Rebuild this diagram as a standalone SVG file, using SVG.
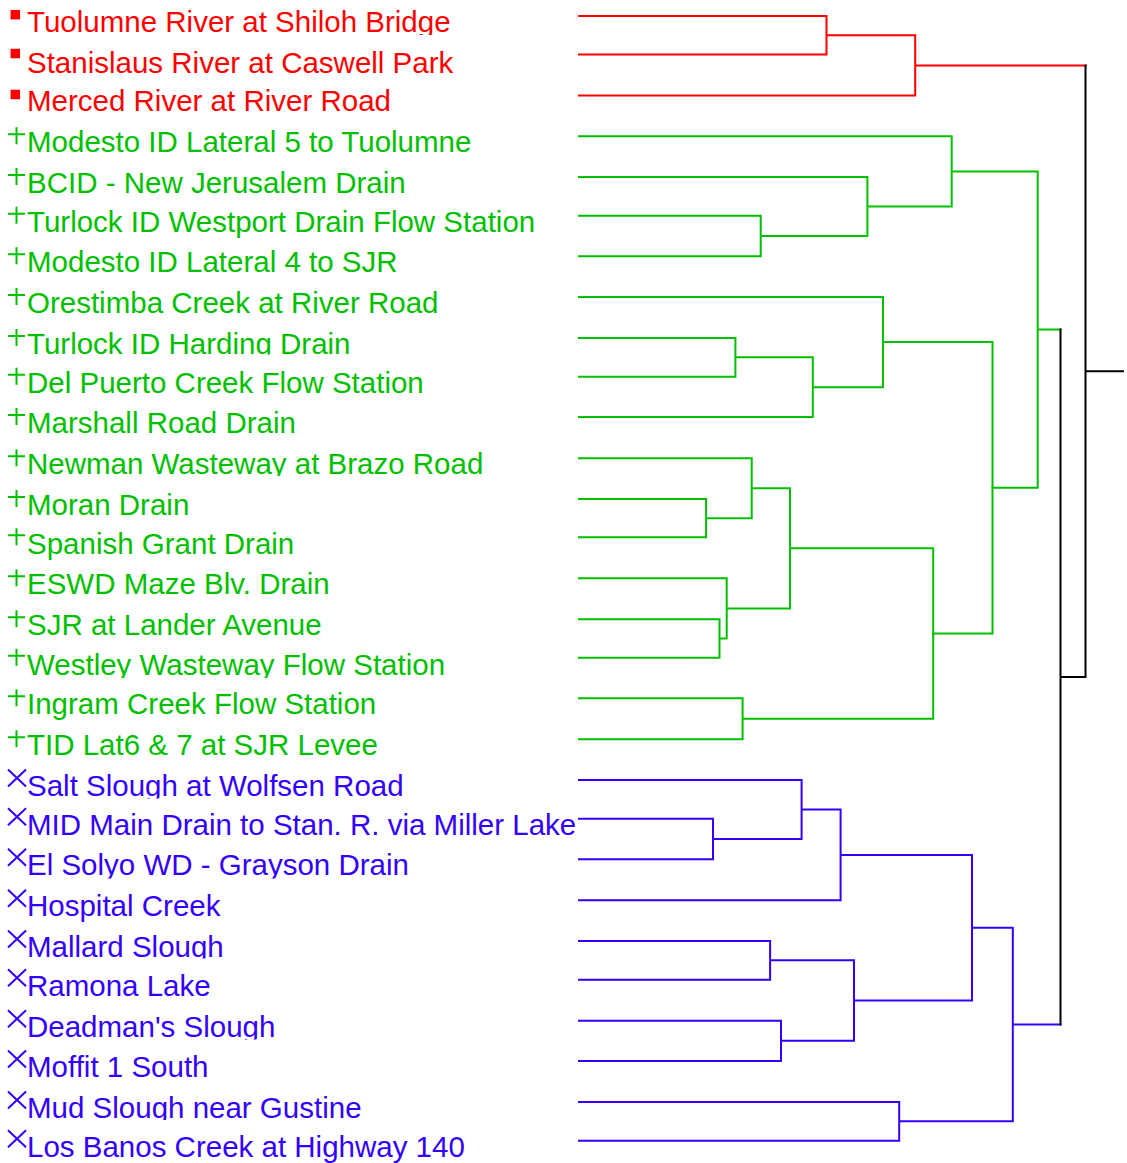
<svg xmlns="http://www.w3.org/2000/svg" xmlns:xlink="http://www.w3.org/1999/xlink" width="1127" height="1163" viewBox="0 0 1127 1163">
<style>
.lbl{font-family:"Liberation Sans",Arial,sans-serif;font-size:29.5px}
.tr{fill:#ff0000}.tg{fill:#00c000}.tb{fill:#3300ff}
.cn{fill:none;stroke-width:2;stroke-linecap:square}
.cr{stroke:#ff0000}.cg{stroke:#00c000}.cb{stroke:#3300ff}.ck{stroke:#000000}
</style>
<defs>
<rect id="sq" x="-4.75" y="-4.75" width="9.5" height="9.5" fill="#ff0000"/>
<path id="plus" d="M-8.5,-2H8.5M0,-9V8" stroke="#00c000" stroke-width="2" fill="none"/>
<path id="cross" d="M-9,-10.5L9,6.5M9,-10.5L-9,6.5" stroke="#3300ff" stroke-width="2" fill="none"/>
<clipPath id="k1"><rect x="0" y="0" width="577" height="35"/></clipPath>
<clipPath id="k9"><rect x="0" y="315" width="577" height="39.5"/></clipPath>
<clipPath id="k12"><rect x="0" y="436" width="577" height="40"/></clipPath>
<clipPath id="k17"><rect x="0" y="636" width="577" height="42"/></clipPath>
<clipPath id="k20"><rect x="0" y="758" width="577" height="40.5"/></clipPath>
<clipPath id="k22"><rect x="0" y="838" width="577" height="40.5"/></clipPath>
<clipPath id="k24"><rect x="0" y="918" width="577" height="40.5"/></clipPath>
<clipPath id="k26"><rect x="0" y="999" width="577" height="40.5"/></clipPath>
<clipPath id="k28"><rect x="0" y="1080" width="577" height="40"/></clipPath>
<clipPath id="kall"><rect x="0" y="0" width="577" height="1163"/></clipPath>
</defs>
<rect width="1127" height="1163" fill="#ffffff"/>

<g id="n1"><use xlink:href="#sq" x="15.3" y="14.7"/><text class="lbl tr" x="27" y="32" clip-path="url(#k1)">Tuolumne River at Shiloh Bridge</text></g>
<g id="n2"><use xlink:href="#sq" x="15.3" y="53.5"/><text class="lbl tr" x="27" y="72.5">Stanislaus River at Caswell Park</text></g>
<g id="n3"><use xlink:href="#sq" x="15.3" y="94.5"/><text class="lbl tr" x="27" y="111">Merced River at River Road</text></g>

<g id="n4"><use xlink:href="#plus" x="16.5" y="136.3"/><text class="lbl tg" x="27" y="152.3">Modesto ID Lateral 5 to Tuolumne</text></g>
<g id="n5"><use xlink:href="#plus" x="16.5" y="177"/><text class="lbl tg" x="27" y="193">BCID - New Jerusalem Drain</text></g>
<g id="n6"><use xlink:href="#plus" x="16.5" y="215.7"/><text class="lbl tg" x="27" y="231.7">Turlock ID Westport Drain Flow Station</text></g>
<g id="n7"><use xlink:href="#plus" x="16.5" y="256.3"/><text class="lbl tg" x="27" y="272.3">Modesto ID Lateral 4 to SJR</text></g>
<g id="n8"><use xlink:href="#plus" x="16.5" y="297"/><text class="lbl tg" x="27" y="313">Orestimba Creek at River Road</text></g>
<g id="n9"><use xlink:href="#plus" x="16.5" y="338"/><text class="lbl tg" x="27" y="354" clip-path="url(#k9)">Turlock ID Harding Drain</text></g>
<g id="n10"><use xlink:href="#plus" x="16.5" y="376.7"/><text class="lbl tg" x="27" y="392.7">Del Puerto Creek Flow Station</text></g>
<g id="n11"><use xlink:href="#plus" x="16.5" y="417"/><text class="lbl tg" x="27" y="433">Marshall Road Drain</text></g>
<g id="n12"><use xlink:href="#plus" x="16.5" y="458.3"/><text class="lbl tg" x="27" y="474.3" clip-path="url(#k12)">Newman Wasteway at Brazo Road</text></g>
<g id="n13"><use xlink:href="#plus" x="16.5" y="499"/><text class="lbl tg" x="27" y="515">Moran Drain</text></g>
<g id="n14"><use xlink:href="#plus" x="16.5" y="537.3"/><text class="lbl tg" x="27" y="554">Spanish Grant Drain</text></g>
<g id="n15"><use xlink:href="#plus" x="16.5" y="578.3"/><text class="lbl tg" x="27" y="594.3">ESWD Maze Blv. Drain</text></g>
<g id="n16"><use xlink:href="#plus" x="16.5" y="619.3"/><text class="lbl tg" x="27" y="635.3">SJR at Lander Avenue</text></g>
<g id="n17"><use xlink:href="#plus" x="16.5" y="657.7"/><text class="lbl tg" x="27" y="675" clip-path="url(#k17)">Westley Wasteway Flow Station</text></g>
<g id="n18"><use xlink:href="#plus" x="16.5" y="698.3"/><text class="lbl tg" x="27" y="714.3">Ingram Creek Flow Station</text></g>
<g id="n19"><use xlink:href="#plus" x="16.5" y="739.3"/><text class="lbl tg" x="27" y="755.3">TID Lat6 &amp; 7 at SJR Levee</text></g>

<g id="n20"><use xlink:href="#cross" x="17" y="780"/><text class="lbl tb" x="27" y="796" clip-path="url(#k20)">Salt Slough at Wolfsen Road</text></g>
<g id="n21"><use xlink:href="#cross" x="17" y="818.7"/><text class="lbl tb" x="27" y="834.7" clip-path="url(#kall)">MID Main Drain to Stan. R. via Miller Lake</text></g>
<g id="n22"><use xlink:href="#cross" x="17" y="859.3"/><text class="lbl tb" x="27" y="875.3" clip-path="url(#k22)">El Solyo WD - Grayson Drain</text></g>
<g id="n23"><use xlink:href="#cross" x="17" y="900.3"/><text class="lbl tb" x="27" y="916.3">Hospital Creek</text></g>
<g id="n24"><use xlink:href="#cross" x="17" y="941"/><text class="lbl tb" x="27" y="957" clip-path="url(#k24)">Mallard Slough</text></g>
<g id="n25"><use xlink:href="#cross" x="17" y="979.7"/><text class="lbl tb" x="27" y="995.7">Ramona Lake</text></g>
<g id="n26"><use xlink:href="#cross" x="17" y="1020.7"/><text class="lbl tb" x="27" y="1036.7" clip-path="url(#k26)">Deadman's Slough</text></g>
<g id="n27"><use xlink:href="#cross" x="17" y="1061"/><text class="lbl tb" x="27" y="1077">Moffit 1 South</text></g>
<g id="n28"><use xlink:href="#cross" x="17" y="1102"/><text class="lbl tb" x="27" y="1118" clip-path="url(#k28)">Mud Slough near Gustine</text></g>
<g id="n29"><use xlink:href="#cross" x="17" y="1140.7"/><text class="lbl tb" x="27" y="1156.7">Los Banos Creek at Highway 140</text></g>

<g id="connectors">
<path class="cn cr" d="M579,16H826.5V54.5H579 M826.5,35.2H915.2V95.5H579 M915.2,65.4H1085.5"/>
<path class="cn cg" d="M579,215.7H760.7V256.3H579 M579,177H867.4V236H760.7 M579,136.3H951.7V206.5H867.4 M951.7,171.4H1037.7V487.8H992.5 M1037.7,329.6H1060.5"/>
<path class="cn cg" d="M579,338H735.4V376.7H579 M735.4,357.3H812.8V417H579 M579,297H883V387.2H812.8 M883,342.1H992.5V633.5H933.2"/>
<path class="cn cg" d="M579,499H706.1V537.3H579 M579,458.3H751.7V518.2H706.1 M579,619.3H719.5V657.7H579 M579,578.3H726.7V638.5H719.5 M751.7,488.2H790V608.4H726.7 M790,548.3H933.2V718.8H742.6 M579,698.3H742.6V739.3H579"/>
<path class="cn cb" d="M579,818.7H713V859.3H579 M579,780H801.6V839H713 M801.6,809.5H840.6V900.3H579 M840.6,854.9H972V1000.6H854 M579,941H770.1V979.7H579 M770.1,960.3H854V1040.8H781 M579,1020.7H781V1061H579 M972,927.7H1012.8V1121.3H899.2 M579,1102H899.2V1140.7H579 M1012.8,1024.5H1060.5"/>
<path class="cn ck" d="M1060.5,329.6V1024.5 M1060.5,677H1085.5 M1085.5,65.4V677 M1085.5,371.2H1123"/>
</g>
</svg>
